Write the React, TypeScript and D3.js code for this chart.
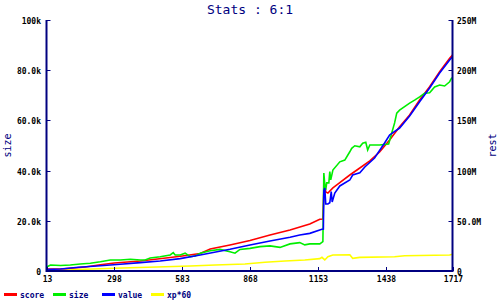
import React, { useEffect, useRef } from "react";
import * as d3 from "d3";

const TITLE = "Stats : 6:1";
const X_TICKS = [13, 298, 583, 868, 1153, 1438, 1717];
const LEFT_TICKS = [0, 20, 40, 60, 80, 100];
const LEFT_LABELS = ["0", "20.0k", "40.0k", "60.0k", "80.0k", "100k"];
const RIGHT_TICKS = [0, 50, 100, 150, 200, 250];
const RIGHT_LABELS = ["0", "50.0M", "100M", "150M", "200M", "250M"];

// score (M, right axis)
const scoreX = [13, 88, 176, 239, 298, 407, 532, 583, 658, 700, 783, 867, 951, 1035, 1118, 1160, 1173, 1177, 1181, 1185, 1194, 1215, 1244, 1286, 1328, 1370, 1411, 1453, 1495, 1537, 1579, 1621, 1663, 1705, 1717];
const scoreY = [2.0, 2.3, 4.0, 6.3, 8.0, 10.0, 13.4, 15.0, 17.4, 21.9, 25.9, 30.4, 35.9, 40.8, 46.8, 51.5, 51.8, 80.7, 86.7, 78.7, 77.7, 82.7, 88.0, 95.6, 102.6, 109.6, 118.5, 130.5, 143.7, 155.4, 170.3, 183.6, 198.5, 211.9, 215.1];

// size (k, left axis)
const sizeX = [13, 30, 72, 113, 155, 197, 239, 281, 323, 365, 407, 427, 448, 490, 532, 545, 553, 574, 595, 616, 637, 658, 700, 741, 783, 804, 825, 867, 909, 951, 993, 1035, 1076, 1097, 1118, 1160, 1173, 1177, 1181, 1185, 1189, 1198, 1202, 1206, 1215, 1244, 1265, 1286, 1294, 1307, 1328, 1340, 1353, 1361, 1370, 1411, 1449, 1462, 1474, 1483, 1495, 1537, 1558, 1579, 1600, 1621, 1642, 1663, 1684, 1705, 1713, 1717];
const sizeY = [1.6, 2.4, 2.2, 2.4, 2.8, 3.1, 3.7, 4.4, 4.4, 4.7, 4.4, 4.4, 5.2, 5.7, 6.4, 7.3, 6.4, 6.4, 7.1, 5.7, 6.0, 7.1, 8.1, 8.6, 7.7, 7.1, 8.6, 9.0, 9.7, 10.0, 9.4, 10.8, 11.3, 10.4, 10.8, 10.8, 11.7, 39.0, 34.3, 32.3, 35.1, 35.1, 39.6, 36.3, 40.2, 43.5, 44.2, 47.5, 48.9, 49.9, 49.5, 50.9, 51.3, 48.2, 50.2, 50.2, 50.6, 55.0, 59.0, 62.9, 64.1, 66.9, 68.1, 69.4, 70.8, 71.0, 73.3, 74.1, 73.7, 75.4, 76.8, 76.9];

// value (M, right axis)
const valueX = [13, 72, 147, 239, 323, 407, 490, 574, 658, 783, 867, 951, 1035, 1076, 1118, 1169, 1175, 1177, 1181, 1185, 1194, 1202, 1208, 1212, 1223, 1244, 1286, 1298, 1328, 1349, 1390, 1432, 1453, 1495, 1537, 1579, 1621, 1663, 1705, 1717];
const valueY = [1.5, 2.0, 3.7, 5.3, 6.7, 8.3, 10.0, 12.3, 15.9, 21.6, 25.9, 29.9, 33.6, 35.9, 37.5, 41.5, 41.8, 80.0, 82.7, 66.7, 66.7, 68.0, 79.0, 68.7, 77.7, 84.7, 90.6, 95.6, 97.9, 103.6, 112.5, 127.5, 135.5, 142.4, 154.4, 168.6, 182.3, 197.2, 210.2, 213.4];

// xp*60 (M, right axis)
const xpX = [13, 176, 298, 365, 511, 616, 721, 846, 930, 1014, 1097, 1160, 1169, 1181, 1194, 1215, 1286, 1298, 1328, 1474, 1516, 1705, 1717];
const xpY = [0.3, 1.7, 2.7, 3.3, 4.3, 5.0, 6.0, 7.0, 8.7, 10.0, 11.0, 12.3, 13.6, 11.0, 14.2, 15.9, 16.2, 12.6, 13.6, 14.2, 15.2, 15.9, 16.6];

const NAVY = "#000080";
const FONT = "'DejaVu Sans Mono', monospace";

export default function App() {
  const ref = useRef<SVGSVGElement>(null);

  useEffect(() => {
    const svg = d3.select(ref.current);
    svg.selectAll("*").remove();
    const left = 46.5, right = 452.5, top = 20, bottom = 271;

    const x = d3.scaleLinear().domain([13, 1717]).range([left, right]);
    const yL = d3.scaleLinear().domain([0, 100]).range([bottom, top]);
    const yR = d3.scaleLinear().domain([0, 250]).range([bottom, top]);

    svg.append("rect").attr("width", 500).attr("height", 300).attr("fill", "#fff");

    svg.append("text").attr("x", 250).attr("y", 14).attr("text-anchor", "middle")
      .attr("font-family", FONT).attr("font-size", 13).attr("fill", NAVY).text(TITLE);

    const series = [
      { name: "score", xs: scoreX, ys: scoreY, y: yR, color: "#ff0000" },
      { name: "size", xs: sizeX, ys: sizeY, y: yL, color: "#00ee00" },
      { name: "value", xs: valueX, ys: valueY, y: yR, color: "#0000ff" },
      { name: "xp*60", xs: xpX, ys: xpY, y: yR, color: "#ffff00" },
    ];

    const order = [3, 0, 1, 2];
    order.forEach((i) => {
      const s = series[i];
      const pts = s.xs.map((v, k) => [v, s.ys[k]] as [number, number]);
      const line = d3.line<[number, number]>().x((d) => x(d[0])).y((d) => s.y(d[1])).curve(d3.curveLinear);
      svg.append("path").attr("d", line(pts)).attr("fill", "none")
        .attr("stroke", s.color).attr("stroke-width", 1.6).attr("stroke-linejoin", "miter");
    });

    // axes
    const ax = svg.append("g").attr("stroke", NAVY).attr("stroke-width", 2).attr("fill", "none");
    ax.append("line").attr("x1", left).attr("x2", left).attr("y1", top).attr("y2", bottom + 1);
    ax.append("line").attr("x1", right).attr("x2", right).attr("y1", top).attr("y2", bottom + 1);
    ax.append("line").attr("x1", left).attr("x2", right).attr("y1", bottom).attr("y2", bottom);

    LEFT_TICKS.forEach((t, i) => {
      const yy = Math.round(yL(t)) + 0.5;
      ax.append("line").attr("x1", left).attr("x2", left + 4).attr("y1", yy).attr("y2", yy).attr("stroke-width", 1);
      svg.append("text").attr("x", 41).attr("y", yy + 3).attr("text-anchor", "end")
        .attr("font-family", FONT).attr("font-size", 8).attr("font-weight", "bold").attr("fill", "#000").text(LEFT_LABELS[i]);
    });
    RIGHT_TICKS.forEach((t, i) => {
      const yy = Math.round(yR(t)) + 0.5;
      ax.append("line").attr("x1", right - 4).attr("x2", right).attr("y1", yy).attr("y2", yy).attr("stroke-width", 1);
      svg.append("text").attr("x", 457).attr("y", yy + 3).attr("text-anchor", "start")
        .attr("font-family", FONT).attr("font-size", 8).attr("font-weight", "bold").attr("fill", "#000").text(RIGHT_LABELS[i]);
    });
    X_TICKS.forEach((t) => {
      const xx = Math.round(x(t)) + 0.5;
      ax.append("line").attr("x1", xx).attr("x2", xx).attr("y1", bottom - 4).attr("y2", bottom).attr("stroke-width", 1);
      svg.append("text").attr("x", xx).attr("y", 282).attr("text-anchor", "middle")
        .attr("font-family", FONT).attr("font-size", 8).attr("font-weight", "bold").attr("fill", "#000").text(String(t));
    });

    svg.append("text").attr("transform", `translate(11,${(top + bottom) / 2}) rotate(-90)`)
      .attr("text-anchor", "middle").attr("font-family", FONT).attr("font-size", 10)
      .attr("fill", NAVY).text("size");
    svg.append("text").attr("transform", `translate(496,${(top + bottom) / 2}) rotate(-90)`)
      .attr("text-anchor", "middle").attr("font-family", FONT).attr("font-size", 10)
      .attr("fill", NAVY).text("rest");

    const legX = [4, 53, 102, 151];
    series.forEach((s, i) => {
      svg.append("line").attr("x1", legX[i]).attr("x2", legX[i] + 13).attr("y1", 294.5).attr("y2", 294.5)
        .attr("stroke", s.color).attr("stroke-width", 3);
      svg.append("text").attr("x", legX[i] + 16).attr("y", 298).attr("font-family", FONT)
        .attr("font-size", 8).attr("font-weight", "bold").attr("fill", NAVY).text(s.name);
    });
  }, []);

  return (
    <div style={{ position: "fixed", left: 0, top: 0 }}>
      <svg ref={ref} width={500} height={300} style={{ display: "block" }} />
    </div>
  );
}
